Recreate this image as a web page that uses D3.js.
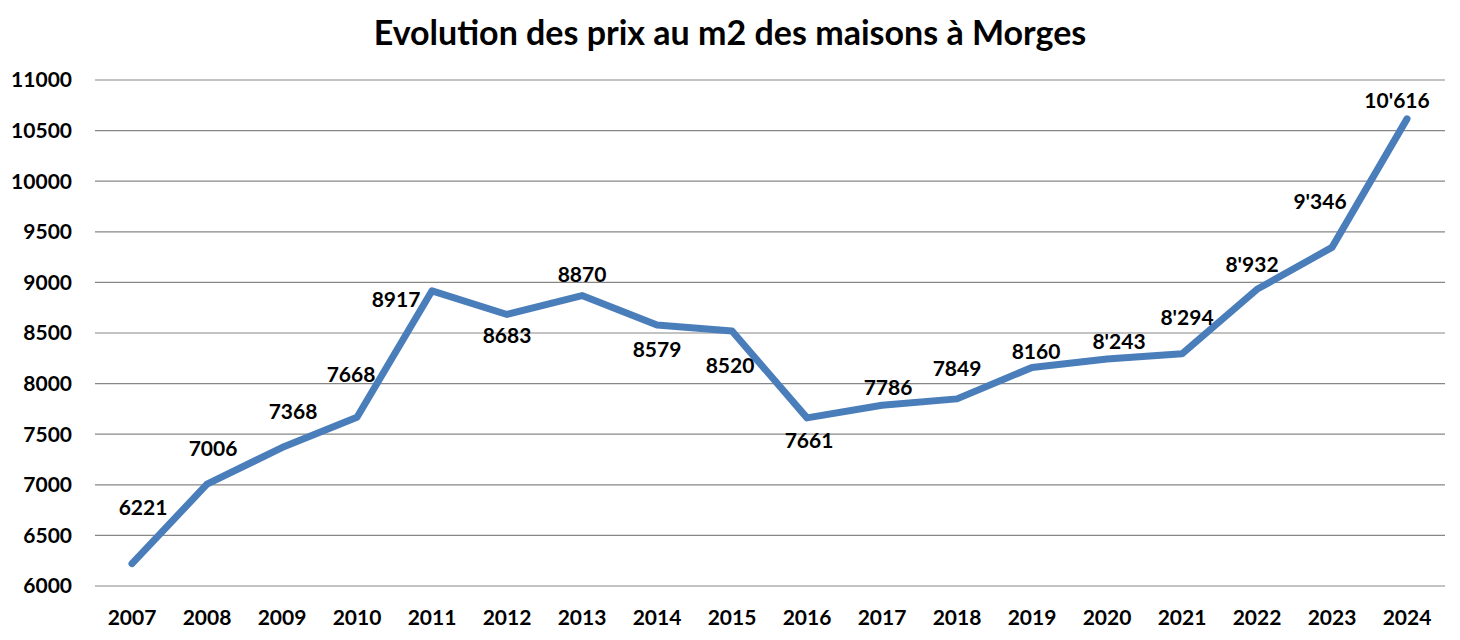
<!DOCTYPE html>
<html><head><meta charset="utf-8">
<script src="https://cdn.jsdelivr.net/npm/d3@7"></script>
<style>body{margin:0;background:#fff}svg{display:block}text{font-family:Lato,"Open Sans",sans-serif;font-weight:bold;fill:#000}</style>
</head><body><svg id="c" width="1460" height="640"></svg>
<script>
const years = [2007,2008,2009,2010,2011,2012,2013,2014,2015,2016,2017,2018,2019,2020,2021,2022,2023,2024];
const prices = [6221,7006,7368,7668,8917,8683,8870,8579,8520,7661,7786,7849,8160,8243,8294,8932,9346,10616];
const priceLabels = ["6221","7006","7368","7668","8917","8683","8870","8579","8520","7661","7786","7849","8160","8'243","8'294","8'932","9'346","10'616"];
const yTicks = [6000,6500,7000,7500,8000,8500,9000,9500,10000,10500,11000];
const title = "Evolution des prix au m2 des maisons à Morges";
// label offsets (px) relative to the point
const labelOffsets = [[11,-56],[6,-36],[11,-36],[-6,-43],[-36,9],[0,21],[0,-21],[0,25],[-2,35],[2,23],[6,-18],[0,-30],[4,-16],[12,-17],[5,-36],[-5,-25],[-12,-46],[-10,-18]];

const svg = d3.select("#c");
const x = d3.scalePoint().domain(years).range([132,1407]);
const y = d3.scaleLinear().domain([6000,11000]).range([586,80]);

svg.append("text").attr("x",730).attr("y",45).attr("text-anchor","middle")
  .style("font-size","34px").text(title);

svg.append("g").selectAll("line").data(yTicks).join("line")
  .attr("x1",95).attr("x2",1445).attr("y1",d=>y(d)).attr("y2",d=>y(d))
  .attr("stroke","#878787").attr("stroke-width",1.2);

svg.append("g").selectAll("text").data(yTicks).join("text")
  .attr("x",72).attr("y",d=>y(d)).attr("dy","0.35em").attr("text-anchor","end")
  .style("font-size","21px").text(d=>d);

svg.append("g").selectAll("text").data(years).join("text")
  .attr("x",d=>x(d)).attr("y",618).attr("dy","0.35em").attr("text-anchor","middle")
  .style("font-size","21px").text(d=>d);

const line = d3.line().x((d,i)=>x(years[i])).y(d=>y(d));
svg.append("path").datum(prices).attr("d",line).attr("fill","none")
  .attr("stroke","#4a7ebb").attr("stroke-width",7).attr("stroke-linejoin","round").attr("stroke-linecap","round");

svg.append("g").selectAll("text").data(prices).join("text")
  .attr("x",(d,i)=>x(years[i])+labelOffsets[i][0])
  .attr("y",(d,i)=>y(d)+labelOffsets[i][1])
  .attr("dy","0.35em").attr("text-anchor","middle")
  .style("font-size","21px").text((d,i)=>priceLabels[i]);
</script></body></html>
